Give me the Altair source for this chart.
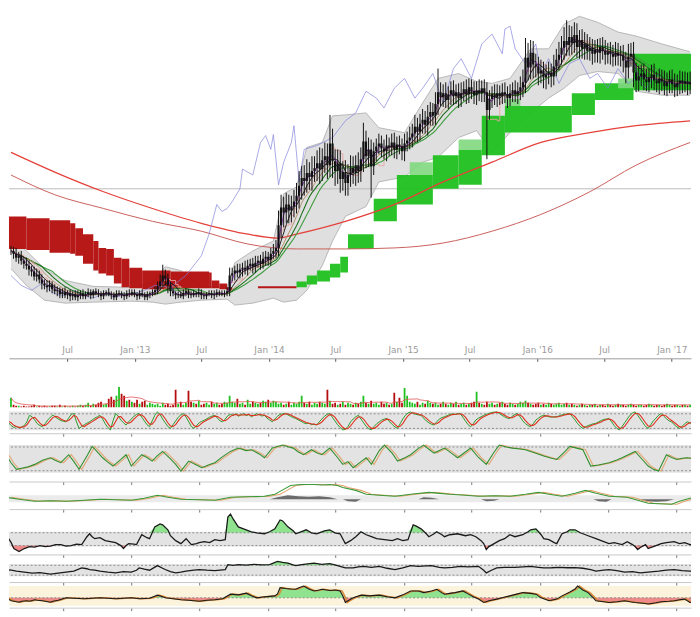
import altair as alt
import pandas as pd

BASE = pd.Timestamp("2012-01-30")

# ---------------- weekly price data (units: price) ----------------
close = [10.9, 10.6, 10.2, 10.4, 9.9, 9.6,
         9.4, 9.0, 8.8, 8.3, 8.5, 8.0, 7.6, 7.4,
         7.2, 7.5, 7.0, 6.8, 6.9, 6.5, 6.7, 6.4, 6.6, 6.3, 6.5, 6.2, 6.4, 6.6, 6.3,
         6.5, 6.7, 6.4, 6.8, 6.6, 6.5, 6.3, 6.6, 6.7, 6.5, 6.4, 6.2, 6.5, 6.6, 6.4, 6.3, 6.6, 6.5, 6.7,
         6.5, 6.3, 6.6, 6.4, 6.2, 6.5, 6.6, 6.7, 6.9, 7.3,
         7.8, 8.4, 8.1, 7.4, 6.8,
         6.6, 6.4, 6.5, 6.3, 6.6, 6.8, 6.5, 6.4, 6.6, 6.5, 6.7, 6.4, 6.3, 6.5, 6.6, 6.4, 6.5, 6.7, 6.6, 6.5, 6.6, 6.8,
         8.4, 8.6, 8.9, 8.7, 9.0, 9.2, 9.0, 9.4, 9.6, 9.3, 9.7, 9.9, 9.6, 10.1, 10.3, 10.0,
         10.6, 10.9, 11.2, 13.5,
         15.3, 14.8, 15.6, 15.0, 15.4, 15.9,
         16.5, 17.5, 18.3,
         18.0, 18.8, 18.4, 19.0, 19.3,
         19.8, 19.2, 20.1, 20.5, 19.6, 21.8, 20.0,
         19.0, 19.8, 18.2, 18.9, 17.8,
         18.6, 19.3, 18.8, 19.6, 19.0, 20.2,
         22.0,
         20.5, 21.2, 19.5,
         21.0, 21.5, 21.8, 21.3, 21.0, 21.6, 21.4, 21.9, 21.2, 21.7, 21.5, 21.0, 21.8, 22.1, 22.4,
         22.8, 23.5, 23.0, 23.8, 24.2, 23.7, 24.5, 25.0, 24.6, 25.8,
         27.0,
         26.5, 26.9, 26.2, 26.8, 27.2, 26.6, 27.0, 26.4, 26.9, 27.3, 26.8, 27.5, 27.1, 26.7, 27.2, 26.9, 27.4, 27.0,
         25.2,
         26.3, 26.8, 26.5, 26.9, 26.6, 27.0, 26.8, 26.4, 26.9, 27.2, 26.8, 27.1, 27.5, 28.0,
         30.5, 29.5, 31.0, 29.8, 29.6,
         28.9, 29.2, 28.5, 28.8, 29.0, 28.6,
         29.6, 30.3, 30.8, 31.5, 32.2, 31.8, 32.6,
         32.0, 32.8, 31.6, 32.3, 31.4, 31.9, 31.2,
         31.5, 30.9, 31.3, 31.0, 31.6, 31.2, 30.8, 31.1,
         30.9, 30.6, 31.0, 30.7, 30.8, 30.2, 29.5,
         30.6, 30.9, 29.0, 28.2,
         28.6, 28.9, 28.3, 28.0, 28.5, 28.8, 28.2, 27.9, 28.4, 28.1, 27.6, 28.0, 28.3, 27.8, 27.5, 27.9, 28.2, 27.9,
         28.1, 27.8, 28.0]

up_wick = [0.5, 0.4, 0.6, 0.4, 0.5, 0.4, 0.6, 0.5, 0.4, 0.5, 0.6, 0.4, 0.5, 0.4, 0.5, 0.4, 0.3, 0.5, 0.4, 0.3, 0.4, 0.5, 0.3, 0.4, 0.3, 0.4, 0.5, 0.3, 0.4,
           0.3, 0.4, 0.3, 0.2, 0.3, 0.4, 0.3, 0.3, 0.2, 0.4, 0.3, 0.3, 0.4, 0.3, 0.2, 0.3, 0.3, 0.4, 0.3, 0.3, 0.2, 0.3, 0.4, 0.3, 0.3, 0.2, 0.3, 0.4, 0.5,
           0.7, 1.1, 0.6, 0.5, 0.4,
           0.3, 0.2, 0.3, 0.3, 0.4, 0.3, 0.2, 0.3, 0.3, 0.2, 0.4, 0.3, 0.3, 0.2, 0.3, 0.3, 0.4, 0.3, 0.2, 0.3, 0.3, 0.4,
           0.8, 0.6, 0.5, 0.7, 0.6, 0.5, 0.7, 0.6, 0.5, 0.6, 0.7, 0.5, 0.6, 0.7, 0.6, 0.5,
           0.6, 0.7, 0.8, 1.5, 1.3, 1.1, 1.2, 1.0, 1.1, 1.2,
           1.3, 1.5, 1.2, 1.3, 1.4, 1.1, 1.5, 1.2, 1.3, 1.6, 1.2, 1.4, 1.3, 2.9, 1.5, 1.2, 1.4, 1.3, 1.1, 1.2,
           1.1, 1.3, 1.2, 1.0, 1.3, 1.2, 1.9, 1.1, 1.2, 1.0,
           0.9, 0.8, 1.0, 0.8, 0.9, 1.1, 0.8, 0.9, 1.0, 0.8, 0.9, 0.8, 1.0, 0.9, 1.1, 1.0, 1.2, 0.9, 1.0, 1.1, 0.9, 1.2, 1.0, 0.9, 1.2,
           2.4,
           1.0, 0.9, 1.1, 0.8, 0.9, 1.0, 0.8, 0.9, 1.1, 0.8, 1.0, 0.9, 0.8, 1.0, 0.9, 1.1, 0.8, 0.9,
           1.0,
           0.9, 0.8, 1.0, 0.9, 0.8, 0.9, 1.0, 0.8, 0.9, 0.8, 1.0, 0.9, 1.1, 1.3,
           2.0, 1.5, 1.3, 1.2, 1.1, 1.0, 1.1, 0.9, 1.0, 1.1, 0.9, 1.2, 1.1, 1.3, 1.2, 1.4,
           2.1,
           1.2, 1.1, 1.3, 1.2, 1.0, 1.1, 1.2, 1.0, 1.1, 0.9, 1.0, 1.1, 0.9, 1.0, 1.1, 0.9, 1.0, 0.9, 1.1, 1.0, 0.9, 1.0,
           0.9,
           1.3, 1.1, 1.2, 1.0, 1.1, 0.9, 1.0, 1.1, 0.9, 1.0, 1.1, 0.9, 1.0, 0.9, 1.1, 1.0, 0.9, 1.0, 1.1, 0.9, 1.0, 0.9,
           1.0, 0.9, 1.1]

dn_wick = [0.4, 0.5, 0.4, 0.6, 0.4, 0.5, 0.4, 0.6, 0.5, 0.4, 0.5, 0.4, 0.6, 0.4, 0.5, 0.4, 0.4, 0.3, 0.5, 0.4, 0.4, 0.3, 0.4, 0.5, 0.4, 0.3, 0.4, 0.4, 0.3,
           0.3, 0.3, 0.4, 0.3, 0.2, 0.3, 0.4, 0.3, 0.3, 0.2, 0.4, 0.3, 0.3, 0.2, 0.3, 0.4, 0.3, 0.3, 0.2, 0.3, 0.4, 0.3, 0.2, 0.3, 0.3, 0.4, 0.3, 0.3, 0.4,
           0.4, 0.5, 0.7, 0.8, 0.5,
           0.3, 0.4, 0.3, 0.2, 0.3, 0.3, 0.4, 0.3, 0.2, 0.3, 0.3, 0.4, 0.3, 0.3, 0.2, 0.3, 0.4, 0.3, 0.3, 0.2, 0.3, 0.3,
           0.5, 0.6, 0.7, 0.5, 0.6, 0.7, 0.5, 0.6, 0.5, 0.7, 0.6, 0.5, 0.6, 0.5, 0.7, 0.6,
           0.6, 0.5, 0.7, 0.8, 1.3, 1.5, 1.1, 1.3, 1.2, 1.1,
           1.2, 1.3, 1.4, 1.5, 1.2, 1.3, 1.4, 1.1, 1.3, 1.5, 1.2, 1.3, 1.4, 1.2, 1.7, 1.5, 1.3, 1.4, 1.2, 1.3,
           1.3, 1.2, 1.1, 1.3, 1.2, 1.1, 1.3, 1.2, 1.1, 3.2,
           0.9, 1.0, 0.8, 0.9, 0.8, 1.0, 0.9, 0.8, 0.9, 1.0, 0.8, 0.9, 1.0, 0.8, 0.9, 1.0, 0.9, 1.1, 0.9, 1.0, 0.9, 1.1, 0.9, 1.0, 0.9,
           1.1,
           0.9, 1.0, 0.8, 0.9, 1.1, 0.9, 0.8, 1.0, 0.9, 0.8, 1.0, 0.9, 0.8, 0.9, 1.0, 0.8, 0.9, 1.0,
           5.0,
           1.0, 0.9, 0.8, 1.0, 0.9, 0.8, 0.9, 1.0, 0.8, 0.9, 0.8, 1.0, 0.9, 1.0,
           1.1, 1.3, 1.2, 1.4, 1.1, 1.2, 1.0, 1.1, 1.2, 1.0, 1.1, 0.9, 1.0, 1.1, 1.0, 1.2,
           1.1,
           1.1, 1.2, 1.0, 1.1, 1.2, 1.0, 1.1, 0.9, 1.0, 1.1, 0.9, 1.0, 1.1, 0.9, 1.0, 0.9, 1.1, 1.0, 0.9, 1.0, 1.1, 1.2,
           1.6,
           1.1, 1.0, 1.5, 1.2, 1.1, 1.0, 1.1, 0.9, 1.0, 1.1, 1.0, 0.9, 1.1, 1.0, 0.9, 1.0, 1.1, 0.9, 1.0, 0.9, 1.1, 1.0,
           0.9, 1.1, 1.0]

volume = [10, 3, 2,
          2, 1, 2, 1, 1, 2, 3, 1, 2, 1, 2, 1, 1, 2, 2, 1, 3, 1, 2, 1, 1, 2, 1, 2, 3, 2,
          3, 5, 2, 4, 3, 5, 6, 3, 4, 9, 11, 8, 12, 21, 14, 12, 7, 8,
          6, 5, 8, 4, 6, 7, 3, 5, 4, 3, 4, 2, 5, 3, 4, 2, 3, 18, 4, 6, 3, 5, 17,
          6, 5, 4, 7, 3, 4, 5, 3, 6, 4, 5, 3, 4, 6, 5, 12, 6, 5, 9, 4, 5, 3,
          8, 4, 6, 5, 4, 5, 7, 6, 8, 5, 7, 6, 4, 5, 3, 4, 6, 3, 5,
          4, 6, 12, 5, 4, 6, 3, 5, 4, 6, 5, 4, 18,
          7, 4, 5, 3, 4, 6, 3, 5, 4, 3, 5, 4, 6, 12, 5, 4, 7,
          4, 5, 3, 6, 4, 5, 3, 4, 15, 6, 10, 5, 20, 12, 6, 5,
          4, 6, 3, 5, 4, 7, 5, 4, 5, 3, 4, 6, 4, 3, 5, 4, 6, 3, 4, 5, 3,
          4, 5, 6, 16, 5, 4, 3, 6, 4, 5, 3, 4, 5, 6, 4, 3, 5, 4, 3, 4, 6, 5,
          7, 5, 4, 3, 4, 5, 3, 4, 3, 5, 4, 3, 4, 5, 3, 4,
          5, 3, 4, 3, 2, 3, 4, 3, 2, 3, 3, 4, 2, 3, 3, 2, 4, 3, 2, 3, 4, 3, 3,
          2, 3, 4, 3, 2, 3, 3, 2, 3, 4, 3, 2, 3, 3, 2, 3, 4, 3, 2, 3, 3, 2, 3,
          3, 2, 3]

stoch_k = [55, 40, 25, 15, 20, 12, 18, 25, 45, 80, 72, 55, 35, 25, 19, 35, 55, 70, 82,
           70, 60, 52, 48, 45, 65, 85, 90, 45, 10, 20, 30, 38, 45, 55, 65, 72, 80,
           60, 35, 15, 2, 50, 90, 75, 55, 40, 28, 45, 60, 75, 85, 90, 70, 50, 30, 19,
           50, 80, 98, 85, 60, 40, 20, 10, 30, 50, 70, 82, 90, 70, 45, 20, 10,
           25, 40, 48, 54, 62, 70, 76, 80, 65, 50, 45, 60, 78,
           85, 80, 88, 75, 82, 90, 78, 85, 72, 80, 88, 84, 76, 80, 65, 55, 45,
           60, 75, 85, 88, 90, 82, 75, 68, 63, 55, 48, 40, 35, 38, 30, 32, 28,
           45, 60, 75, 85, 90, 70, 50, 30, 15, 2, 5, 20, 45, 60, 72, 80,
           60, 40, 20, 8, 2, 20, 35, 45, 55, 60, 63, 45, 30, 18, 10,
           35, 60, 80, 92, 98, 90, 85, 82, 80, 65, 50, 40, 32, 28, 45, 60, 68, 72,
           78, 85, 88, 84, 88, 90, 70, 50, 30, 19, 35, 55, 65, 72, 80,
           85, 90, 95, 97, 98, 90, 80, 72, 65, 63, 75, 85, 90, 70, 50, 35, 25, 19,
           35, 55, 65, 75, 80, 76, 72, 70, 72, 72, 78, 82, 85, 88, 90,
           72, 55, 35, 20, 10, 18, 25, 30, 35, 37, 45, 52, 58, 60, 63,
           45, 25, 10, 2, 20, 40, 60, 80, 92, 98, 80, 60, 40, 20, 10,
           30, 50, 65, 80, 90, 75, 62, 50, 45, 30, 18, 10, 20, 35, 45, 40, 32]

# (week, upper, lower)
bb_band = [(0, 12.1, 9.1), (6, 10.9, 7.4), (13, 9.1, 5.9), (21, 7.9, 5.6), (32, 7.3, 5.7), (47, 7.2, 5.8),
           (55, 7.7, 5.7), (60, 9.3, 5.5), (66, 8.9, 5.7), (74, 7.3, 5.9), (84, 7.2, 6.0), (87, 9.7, 5.4),
           (94, 10.9, 5.6), (102, 11.9, 6.1), (106, 16.7, 5.7), (111, 17.4, 5.9), (115, 21.4, 6.9),
           (121, 21.9, 9.4), (125, 24.6, 11.9), (130, 24.7, 14.4), (138, 24.9, 15.4), (143, 23.4, 17.9),
           (153, 22.9, 18.4), (160, 25.9, 19.9), (166, 28.4, 20.4), (174, 28.9, 22.4), (181, 28.1, 23.1),
           (187, 27.9, 20.9), (194, 28.4, 22.9), (202, 31.4, 24.9), (209, 31.4, 26.4), (215, 33.9, 27.4),
           (221, 34.7, 28.7), (228, 34.1, 29.1), (236, 33.1, 28.9), (243, 32.7, 27.1), (253, 31.9, 26.7),
           (264, 31.1, 26.7)]

blue_line = [(0, 8.4), (4, 7.4), (8, 6.9), (12, 7.6), (16, 6.7), (20, 6.3), (24, 6.9), (28, 6.4), (32, 6.1),
             (36, 6.6), (40, 6.2), (44, 6.4), (48, 6.6), (52, 6.9), (56, 7.4), (62, 7.2), (68, 8.4), (74, 10.4),
             (77, 12.6), (80, 15.6), (82, 14.9), (84, 15.2), (86, 15.9), (89, 17.2), (90, 19.2), (94, 18.6),
             (97, 21.9), (99, 22.6), (101, 21.2), (102, 22.7), (104, 17.6), (106, 19.9), (109, 21.9), (110, 23.6),
             (112, 17.9), (114, 21.2), (119, 21.6), (125, 22.4), (130, 24.1), (134, 24.9), (138, 27.1), (142, 26.4),
             (145, 25.4), (149, 27.4), (153, 28.4), (157, 26.4), (160, 27.4), (164, 28.9), (168, 25.9), (172, 29.4),
             (175, 30.4), (179, 28.4), (183, 31.9), (187, 32.9), (191, 30.9), (192, 33.4), (194, 33.7), (196, 31.4),
             (200, 29.9), (204, 31.9), (206, 28.9), (209, 30.4), (213, 27.9), (217, 29.9), (221, 30.4), (225, 28.4),
             (228, 28.9), (232, 27.4), (236, 29.4), (240, 27.9), (243, 28.4), (247, 27.4), (251, 28.9), (255, 27.9),
             (264, 28.1)]

red_ma_fast = [(0, 20.9), (17, 18.9), (36, 16.9), (55, 15.2), (74, 13.7), (92, 12.6), (104, 12.2), (111, 12.6),
               (130, 13.9), (149, 15.6), (168, 17.9), (187, 19.9), (206, 21.9), (225, 22.9), (243, 23.6), (264, 24.1)]
red_ma_slow = [(0, 18.6), (17, 16.6), (36, 15.2), (55, 13.9), (74, 12.9), (92, 11.6), (111, 11.1), (130, 11.1),
               (149, 11.2), (168, 11.7), (187, 12.9), (206, 14.6), (225, 16.9), (243, 19.6), (264, 21.9)]

# (start week, span A, span B)
cloud_steps = [(-2, 11.1, 14.4), (6, 11.0, 14.2), (15, 10.7, 14.0), (23, 10.6, 13.7), (25, 10.4, 13.2),
               (28, 9.6, 12.6), (32, 8.9, 11.9), (34, 8.6, 11.2), (37, 8.4, 11.1), (40, 7.6, 10.2),
               (43, 7.2, 10.1), (46, 7.1, 9.2), (51, 7.0, 8.9), (62, 7.1, 8.8), (77, 7.1, 8.7), (78, 7.1, 7.9),
               (81, 7.0, 7.6), (84, 6.9, 7.2), (86, 7.0, 7.0), (96, 7.1, 7.3), (111, 7.8, 7.2), (115, 8.4, 7.5),
               (119, 8.9, 7.8), (124, 9.6, 8.2), (128, 10.3, 8.7), (131, 12.6, 11.1), (141, 16.2, 13.9),
               (150, 18.6, 15.6), (164, 20.6, 17.2), (174, 21.2, 17.6), (183, 24.6, 20.6), (192, 25.6, 22.9),
               (218, 26.9, 24.7), (227, 27.9, 26.2), (242, 30.9, 27.2)]
cloud_end = 266
# lighter (overlapping) cloud strips: (start week, end week, top, bottom)
cloud_light = [(155, 164, 19.9, 18.6), (174, 183, 22.2, 21.2), (192, 198, 26.3, 25.6), (236, 242, 28.4, 27.4)]

ref_level = [17.2]

slow_osc = [(0, 65), (2, 35), (4, 12), (6, 16), (8, 20), (11, 30), (14, 45), (17, 54), (19, 44), (21, 36), (24, 65),
            (26, 40), (28, 12), (31, 60), (33, 95), (35, 75), (37, 54), (39, 38), (41, 24), (44, 48), (46, 65),
            (48, 24), (50, 45), (52, 65), (54, 55), (56, 42), (58, 62), (60, 77), (63, 50), (65, 30), (67, 6),
            (70, 42), (73, 28), (75, 18), (78, 30), (80, 36), (83, 58), (86, 77), (89, 89), (92, 80), (94, 83),
            (97, 68), (99, 54), (102, 89), (104, 95), (106, 100), (108, 94), (110, 89), (112, 75), (114, 65),
            (117, 83), (119, 72), (121, 65), (124, 89), (127, 55), (129, 30), (131, 40), (133, 18), (136, 40),
            (138, 54), (140, 30), (143, 80), (145, 100), (148, 70), (150, 42), (153, 55), (155, 65), (158, 88),
            (160, 100), (162, 85), (164, 71), (166, 80), (168, 89), (171, 68), (173, 54), (176, 75), (178, 89),
            (181, 55), (184, 30), (187, 75), (189, 100), (192, 92), (194, 89), (197, 86), (199, 83), (203, 70),
            (206, 60), (209, 52), (211, 48), (214, 75), (216, 95), (219, 88), (221, 83), (224, 24), (227, 28),
            (231, 36), (234, 46), (236, 54), (239, 68), (241, 77), (244, 45), (246, 24), (248, 12), (250, 6),
            (253, 65), (255, 55), (257, 48), (259, 52), (261, 54), (264, 50)]

macd_line = [(0, 12), (5, 10), (11, 8), (17, 8.5), (23, 8), (30, 9), (36, 10), (42, 9.5), (48, 9), (53, 11),
             (58, 14), (62, 12), (67, 10), (74, 9.5), (80, 9), (86, 12), (92, 12.5), (99, 13), (103, 15), (105, 18),
             (109, 24), (113, 25), (118, 25), (121, 24.5), (124, 25), (127, 24), (129, 22), (134, 19), (138, 15),
             (143, 14), (149, 13), (155, 15), (162, 17), (166, 16), (170, 15), (176, 14), (181, 13), (187, 13.5),
             (193, 13), (199, 15), (204, 17), (208, 15), (213, 13), (218, 16), (222, 19), (226, 16), (231, 13),
             (238, 12), (242, 9), (246, 6), (250, 5.5), (255, 5), (258, 8), (262, 11), (265, 12)]

macd_hist = [(101, 10), (104, 12), (108, 14), (112, 13), (116, 12.5), (120, 13), (124, 12), (127, 10), (129, 10),
             (131, 8), (134, 7.5), (136, 10), (158, 10), (160, 12), (163, 11.5), (166, 10), (182, 10), (184, 8),
             (187, 8.5), (189, 10), (225, 10), (227, 8), (230, 7.5), (232, 10), (242, 10), (245, 8), (249, 7.5),
             (253, 8), (256, 10)]

osc5 = [(0, 21), (1, 16), (2, 12), (3, 6), (5, 3), (7, 6), (9, 8), (11, 7.5), (13, 9), (15, 8), (17, 8.5), (19, 10),
        (21, 10), (23, 8.5), (25, 9), (27, 10.5), (29, 10), (31, 18), (32, 21), (33, 18), (34, 16), (36, 17),
        (38, 14), (40, 13), (42, 12), (44, 9), (45, 6), (46, 9), (47, 11), (49, 10.5), (50, 10), (52, 20), (54, 17),
        (55, 16), (57, 28), (59, 31), (60, 30), (62, 25), (63, 19), (65, 14), (67, 11), (69, 16), (70, 13), (71, 10),
        (73, 11), (74, 12), (76, 13), (78, 12), (80, 15), (82, 14), (84, 15), (85, 38), (86, 41), (87, 36), (89, 28),
        (91, 26), (94, 23), (96, 22), (99, 21), (101, 23), (103, 26), (105, 35), (106, 34), (108, 28), (110, 24),
        (111, 21), (113, 23), (115, 25), (117, 22), (119, 21), (122, 24), (124, 25), (126, 22), (128, 21), (129, 16),
        (130, 11), (132, 14), (134, 18), (136, 23), (138, 20), (140, 18), (142, 16), (145, 15), (148, 14), (150, 16),
        (152, 14), (154, 15), (156, 30), (157, 29), (159, 26), (161, 21), (162, 18), (164, 21), (165, 23), (167, 20),
        (168, 18), (170, 20), (173, 21), (176, 19), (178, 20), (180, 18), (182, 14), (183, 11), (184, 5), (185, 8),
        (187, 11), (189, 14), (191, 16), (193, 20), (195, 18), (198, 20), (200, 23), (201, 25), (203, 26), (205, 20),
        (206, 16), (208, 15), (210, 12), (211, 11), (213, 21), (215, 23), (216, 25), (218, 25), (220, 22), (221, 21),
        (223, 19), (226, 16), (228, 14), (231, 11), (233, 12), (236, 10), (238, 13), (240, 10), (241, 8), (242, 5),
        (243, 7), (245, 10), (246, 6), (248, 8), (250, 10), (251, 11), (253, 12), (256, 13), (258, 11), (260, 12),
        (262, 10), (265, 11)]

osc6 = [(0, 12.7), (2, 12), (4, 11), (7, 10), (10, 9), (13, 9.5), (17, 8), (20, 9), (23, 10), (26, 11), (29, 14.3),
        (31, 13.5), (32, 12.7), (34, 12), (36, 11), (39, 10), (42, 9.3), (45, 10.5), (48, 10), (50, 12), (51, 14.3),
        (53, 13), (55, 12), (58, 16.7), (60, 14), (61, 12.7), (63, 10.5), (65, 9.3), (67, 10), (69, 11), (72, 12),
        (74, 12.7), (77, 12), (80, 11.5), (84, 12.7), (85, 17.7), (87, 17), (89, 17.7), (92, 17.2), (95, 18),
        (98, 17.5), (101, 17.7), (104, 21), (106, 20), (108, 19.3), (110, 17.5), (111, 16.7), (114, 18), (118, 19.3),
        (121, 18), (124, 18.7), (126, 17.5), (128, 16), (130, 14.3), (133, 14.3), (135, 15.5), (137, 16), (140, 15),
        (143, 16), (146, 14), (149, 12.7), (152, 14.5), (155, 16.7), (158, 16), (161, 16.5), (163, 16.7), (166, 15),
        (168, 14.3), (171, 15), (174, 16), (177, 15.5), (181, 16), (183, 12), (184, 9.3), (186, 12), (188, 14.3),
        (191, 15), (195, 15), (198, 15.5), (201, 16), (204, 15), (206, 14.3), (209, 14.5), (212, 15), (215, 14.5),
        (218, 14.7), (221, 14), (224, 12.5), (226, 11), (229, 12), (231, 12.7), (234, 11.5), (237, 10), (240, 10.5),
        (243, 9.3), (246, 10), (250, 11), (253, 12), (256, 12.7), (259, 11.5), (262, 11), (265, 11.5)]

osc7 = [(0, 10.3), (2, 7), (3, 6.5), (5, 5.5), (6, 6.5), (8, 7), (9, 6.5), (11, 8), (12, 7.5), (14, 7), (16, 6),
        (17, 5.5), (18, 6.5), (20, 7.5), (23, 10), (26, 9.5), (30, 9), (33, 9.5), (36, 10), (39, 9.5), (42, 9),
        (45, 9.5), (48, 10), (51, 9), (55, 9.5), (58, 12.7), (60, 11), (61, 10), (64, 9), (67, 8), (70, 7.5),
        (74, 6.5), (77, 7.5), (80, 8), (83, 9), (86, 13.7), (89, 13), (92, 14.7), (94, 12), (96, 10), (99, 11),
        (103, 12), (104, 14), (105, 20.3), (107, 19.5), (109, 19), (111, 18.7), (112, 20), (114, 22), (116, 19),
        (118, 17), (120, 18), (121, 18.7), (124, 17.5), (126, 18), (128, 17), (129, 12), (130, 5.3), (131, 7),
        (133, 10), (136, 12.7), (139, 12), (143, 12.7), (146, 11), (149, 10), (152, 13), (155, 17), (158, 17),
        (160, 15.3), (163, 17), (165, 18.7), (167, 15), (168, 13.7), (170, 14.5), (172, 15.3), (175, 17), (177, 14),
        (179, 11), (181, 8.7), (183, 5.3), (185, 7), (188, 8.7), (190, 10), (193, 12), (196, 14), (198, 15.3),
        (201, 14.5), (203, 13.7), (205, 10), (208, 7), (211, 8.7), (213, 12), (216, 16), (218, 19), (219, 22),
        (221, 18), (223, 15.3), (225, 10), (226, 7), (229, 6), (231, 5.3), (234, 6), (237, 7), (239, 6), (241, 5.3),
        (244, 4.5), (246, 3.7), (249, 5), (251, 6), (254, 6.5), (256, 7), (258, 8), (260, 8.7), (262, 5.3), (265, 6)]

tick_dates = ["2012-07-01", "2013-01-01", "2013-07-01", "2014-01-01", "2014-07-01", "2015-01-01",
              "2015-07-01", "2016-01-01", "2016-07-01", "2017-01-01"]


def wdate(i):
    return (BASE + pd.Timedelta(days=7.0 * i)).strftime("%Y-%m-%d")


def ms(s):
    return int(pd.Timestamp(s, tz="UTC").timestamp() * 1000)


n = min(len(close), len(up_wick), len(dn_wick))
opens = [close[0]] + close[:n - 1]
candles = pd.DataFrame({
    "date": [wdate(i) for i in range(n)],
    "open": opens[:n],
    "close": close[:n],
    "hi": [max(o, c) + u for o, c, u in zip(opens, close, up_wick)],
    "lo": [min(o, c) - d for o, c, d in zip(opens, close, dn_wick)],
})

vol_df = pd.DataFrame({
    "date": [wdate(i) for i in range(len(volume))],
    "vol": volume,
    "dir": ["up" if i < n and close[i] >= opens[i] else "dn" for i in range(len(volume))],
})
k_df = pd.DataFrame({"date": [wdate(i) for i in range(len(stoch_k))], "k": stoch_k})


def pairs_df(pairs, lag=0.0):
    return pd.DataFrame({"date": [wdate(p[0] + lag) for p in pairs], "v": [p[1] for p in pairs]})


bb_df = pd.DataFrame({"date": [wdate(b[0]) for b in bb_band], "up": [b[1] for b in bb_band],
                      "lo": [b[2] for b in bb_band]})
starts = [c[0] for c in cloud_steps]
ends = starts[1:] + [cloud_end]
cloud_df = pd.DataFrame({
    "s": [wdate(s) for s in starts], "e": [wdate(e) for e in ends],
    "a": [c[1] for c in cloud_steps], "b": [c[2] for c in cloud_steps],
    "c": ["up" if c[1] >= c[2] else "dn" for c in cloud_steps],
})
light_df = pd.DataFrame({
    "s": [wdate(c[0]) for c in cloud_light], "e": [wdate(c[1]) for c in cloud_light],
    "a": [c[2] for c in cloud_light], "b": [c[3] for c in cloud_light],
})

XS = alt.Scale(type="utc", domain=[ms("2012-02-07"), ms("2017-02-09")])
tick_ms = [ms(t) for t in tick_dates]
label_expr = "utcFormat(datum.value, '%m') == '01' ? \"Jan '\" + utcFormat(datum.value, '%y') : 'Jul'"
MAIN_AX = alt.Axis(values=tick_ms, labelExpr=label_expr, tickSize=3, labelPadding=-16,
                   labelColor="#9a9a9a", labelFontSize=9, labelFont="DejaVu Sans", domainColor="#9a9a9a",
                   tickColor="#555555", grid=False, title=None, labelFlush=False, labelOverlap=False)
SUB_AX = alt.Axis(values=tick_ms, labels=False, tickSize=3, domainColor="#c8c8c8", tickColor="#777777",
                  grid=False, title=None)
W = 692


def X(ax, field="date"):
    return alt.X(f"{field}:T", scale=XS, axis=ax, title=None)


# ---------------- main price panel ----------------
YM = alt.Scale(domain=[0, 35.1])


def ym(f):
    return alt.Y(f, scale=YM, axis=None)


bb_area = alt.Chart(bb_df).mark_area(color="#dcdcdc", opacity=0.9, clip=True).encode(
    x=X(MAIN_AX), y=ym("up:Q"), y2="lo:Q")
bb_up = alt.Chart(bb_df).mark_line(color="#aaaaaa", strokeWidth=0.8, clip=True).encode(x=X(MAIN_AX), y=ym("up:Q"))
bb_lo = alt.Chart(bb_df).mark_line(color="#aaaaaa", strokeWidth=0.8, clip=True).encode(x=X(MAIN_AX), y=ym("lo:Q"))
ref_rule = alt.Chart(pd.DataFrame({"v": ref_level})).mark_rule(color="#bbbbbb", strokeWidth=1).encode(y=ym("v:Q"))
cloud = alt.Chart(cloud_df).mark_rect(clip=True, opacity=0.95).encode(
    x=X(MAIN_AX, "s"), x2="e:T", y=ym("a:Q"), y2="b:Q",
    color=alt.Color("c:N", scale=alt.Scale(domain=["up", "dn"], range=["#1fc01f", "#b30d0d"]), legend=None))
cloud_lt = alt.Chart(light_df).mark_rect(clip=True, color="#7fd87f", opacity=0.9).encode(
    x=X(MAIN_AX, "s"), x2="e:T", y=ym("a:Q"), y2="b:Q")


def pline(pairs, color, width, interp="linear", opacity=1.0):
    return alt.Chart(pairs_df(pairs)).mark_line(color=color, strokeWidth=width, interpolate=interp,
                                                opacity=opacity, clip=True).encode(x=X(MAIN_AX), y=ym("v:Q"))


red1 = pline(red_ma_fast, "#e5423b", 1.3, "monotone")
red2 = pline(red_ma_slow, "#c9605a", 1.0, "monotone")
blue = pline(blue_line, "#7f7fdc", 0.8, "linear", 0.85)


def ma(nw, color, width):
    return alt.Chart(candles).transform_window(
        m="mean(close)", frame=[-(nw - 1), 0], sort=[alt.SortField("date")]
    ).mark_line(color=color, strokeWidth=width, clip=True).encode(x=X(MAIN_AX), y=ym("m:Q"))


kijun = alt.Chart(candles).transform_window(
    mx="max(hi)", mn="min(lo)", frame=[-4, 0], sort=[alt.SortField("date")]
).transform_calculate(kj="(datum.mx + datum.mn) / 2").mark_line(
    color="#e8a2a2", strokeWidth=0.9, interpolate="step-after", clip=True).encode(x=X(MAIN_AX), y=ym("kj:Q"))

wick = alt.Chart(candles).mark_rule(color="#111111", strokeWidth=1.0, clip=True).encode(
    x=X(MAIN_AX), y=ym("lo:Q"), y2="hi:Q")
body = alt.Chart(candles).mark_bar(color="#111111", width=2.2, clip=True).encode(
    x=X(MAIN_AX), y=ym("open:Q"), y2="close:Q")

main = alt.layer(bb_area, bb_up, bb_lo, ref_rule, cloud, cloud_lt, red1, red2, blue, kijun,
                 ma(17, "#3d9b3d", 1.1), ma(13, "#1e6e1e", 1.1), ma(10, "#b08a60", 0.9),
                 ma(6, "#222222", 1.0), ma(3, "#9933cc", 0.9),
                 wick, body).properties(width=W, height=351)

# ---------------- volume ----------------
YV = alt.Scale(domain=[0, 50])
vbars = alt.Chart(vol_df).mark_bar(width=1.8, clip=True).encode(
    x=X(None), y=alt.Y("vol:Q", scale=YV, axis=None),
    color=alt.Color("dir:N", scale=alt.Scale(domain=["up", "dn"], range=["#2ea02e", "#c81818"]), legend=None))
vma = alt.Chart(vol_df).transform_window(
    vm="mean(vol)", frame=[-9, 0], sort=[alt.SortField("date")]
).mark_line(color="#e05050", strokeWidth=0.8, clip=True).encode(x=X(None), y=alt.Y("vm:Q", scale=YV, axis=None))
vol_panel = alt.layer(vbars, vma).properties(width=W, height=50)


def band(lo, hi, ysc, color):
    return alt.Chart(pd.DataFrame({"lo": [lo], "hi": [hi]})).mark_rect(color=color).encode(
        y=alt.Y("lo:Q", scale=ysc, axis=None), y2="hi:Q")


def dots(vals, ysc):
    return alt.Chart(pd.DataFrame({"v": vals})).mark_rule(color="#8c8c8c", strokeDash=[2, 2], strokeWidth=1).encode(
        y=alt.Y("v:Q", scale=ysc, axis=None))


# ---------------- panel 2: fast oscillator ----------------
Y2 = alt.Scale(domain=[-15.8, 121.1])
k_line = alt.Chart(k_df).mark_line(color="#2a9a2a", strokeWidth=1.0, clip=True).encode(
    x=X(SUB_AX), y=alt.Y("k:Q", scale=Y2, axis=None))
d_line = alt.Chart(k_df).transform_window(
    d="mean(k)", frame=[-2, 0], sort=[alt.SortField("date")]
).mark_line(color="#e0301e", strokeWidth=1.1, clip=True).encode(x=X(SUB_AX), y=alt.Y("d:Q", scale=Y2, axis=None))
p2 = alt.layer(band(0, 100, Y2, "#e3e3e3"), dots([10, 88], Y2), k_line, d_line).properties(width=W, height=26)

# ---------------- panel 3: slow oscillator ----------------
Y3 = alt.Scale(domain=[-32.1, 142.9])


def sline(pairs, ysc, color, width, lag=0.0, ax=SUB_AX):
    return alt.Chart(pairs_df(pairs, lag)).mark_line(color=color, strokeWidth=width, clip=True).encode(
        x=X(ax), y=alt.Y("v:Q", scale=ysc, axis=None))


p3 = alt.layer(band(0, 100, Y3, "#e3e3e3"), dots([7, 93], Y3),
               sline(slow_osc, Y3, "#e2a878", 1.2, 1.0), sline(slow_osc, Y3, "#2f8f2f", 1.1)
               ).properties(width=W, height=49)

# ---------------- panel 4: MACD ----------------
Y4 = alt.Scale(domain=[0, 28])
hist_df = pairs_df(macd_hist)
hist_df["base"] = 10
hist = alt.Chart(hist_df).mark_area(color="#555555", opacity=0.85, clip=True).encode(
    x=X(SUB_AX), y=alt.Y("v:Q", scale=Y4, axis=None), y2="base:Q")
p4 = alt.layer(band(7, 14, Y4, "#ebebeb"), hist,
               sline(macd_line, Y4, "#e6a26a", 1.1, 2.0), sline(macd_line, Y4, "#3a9a3a", 1.1)
               ).properties(width=W, height=28)


def fill_line(pairs, ysc, hi_thr, lo_thr, ax=SUB_AX, dn_color="#f08a8a"):
    df = pairs_df(pairs)
    g = alt.Chart(df).transform_calculate(g=f"max(datum.v, {hi_thr})", t=f"{hi_thr}").mark_area(
        color="#8fe38f", clip=True).encode(x=X(ax), y=alt.Y("g:Q", scale=ysc, axis=None), y2="t:Q")
    r = alt.Chart(df).transform_calculate(r=f"min(datum.v, {lo_thr})", t=f"{lo_thr}").mark_area(
        color=dn_color, clip=True).encode(x=X(ax), y=alt.Y("r:Q", scale=ysc, axis=None), y2="t:Q")
    return g, r


# ---------------- panel 5 ----------------
Y5 = alt.Scale(domain=[0, 46])
g5, r5 = fill_line(osc5, Y5, 22, 9)
p5 = alt.layer(band(8, 23, Y5, "#e3e3e3"), g5, r5, dots([9, 22], Y5),
               sline(osc5, Y5, "#1a1a1a", 1.3)).properties(width=W, height=46)

# ---------------- panel 6 ----------------
Y6 = alt.Scale(domain=[0, 28])
g6, r6 = fill_line(osc6, Y6, 17, 7)
p6 = alt.layer(band(6, 18, Y6, "#e3e3e3"), g6, r6, dots([7, 17], Y6),
               sline(osc6, Y6, "#1a1a1a", 1.3)).properties(width=W, height=28)

# ---------------- panel 7 ----------------
Y7 = alt.Scale(domain=[0, 26])
g7, r7 = fill_line(osc7, Y7, 10, 10)
p7 = alt.layer(band(2, 22, Y7, "#fbf3dc"), g7, r7, dots([10], Y7),
               sline(osc7, Y7, "#d98b3a", 1.6, 0.8), sline(osc7, Y7, "#1a1a1a", 1.1)
               ).properties(width=W, height=26)

chart = alt.vconcat(main, vol_panel, p2, p3, p4, p5, p6, p7, spacing=0, bounds="flush").properties(
    padding=0, background="white"
).configure_view(stroke=None)

chart.save("out.html", embed_options={"renderer": "svg", "actions": False})
